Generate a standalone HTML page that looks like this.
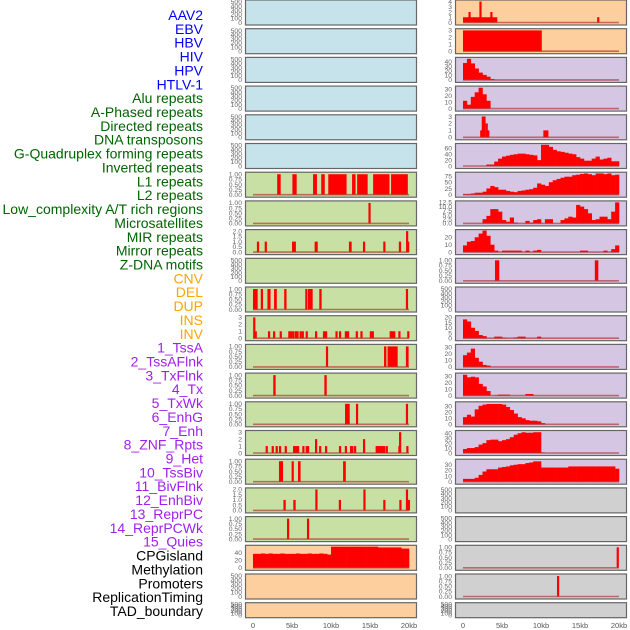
<!DOCTYPE html>
<html><head><meta charset="utf-8">
<style>
html,body{margin:0;padding:0;background:#fff;}
svg{display:block;font-family:"Liberation Sans",sans-serif;}
</style></head>
<body>
<svg id="chart" width="630" height="630" viewBox="0 0 630 630"></svg>
<script>
// ---- Data (kb-based) ----
const trackLabels = ["AAV2","EBV","HBV","HIV","HPV","HTLV-1","Alu repeats","A-Phased repeats","Directed repeats","DNA transposons","G-Quadruplex forming repeats","Inverted repeats","L1 repeats","L2 repeats","Low_complexity A/T rich regions","Microsatellites","MIR repeats","Mirror repeats","Z-DNA motifs","CNV","DEL","DUP","INS","INV","1_TssA","2_TssAFlnk","3_TxFlnk","4_Tx","5_TxWk","6_EnhG","7_Enh","8_ZNF_Rpts","9_Het","10_TssBiv","11_BivFlnk","12_EnhBiv","13_ReprPC","14_ReprPCWk","15_Quies","CPGisland","Methylation","Promoters","ReplicationTiming","TAD_boundary"];
const labelColors = ["#0000ff","#0000ff","#0000ff","#0000ff","#0000ff","#0000ff","#006400","#006400","#006400","#006400","#006400","#006400","#006400","#006400","#006400","#006400","#006400","#006400","#006400","#ffa500","#ffa500","#ffa500","#ffa500","#ffa500","#a020f0","#a020f0","#a020f0","#a020f0","#a020f0","#a020f0","#a020f0","#a020f0","#a020f0","#a020f0","#a020f0","#a020f0","#a020f0","#a020f0","#a020f0","#000","#000","#000","#000","#000"];
const xTickLabels = ["0","5kb","10kb","15kb","20kb"];
const xTickKb = [0,5,10,15,20];

// binned series (0.5 kb bins, 40 bins)
const cpgBins = [37,37,38,37,38,37,37,38,37,37,37,38,37,37,38,37,37,38,37,35,56,56,56,56,56,56,56,56,56,56,56,56,54,54,54,54,54,54,51,51];
const c2r2Bins = [37,46,36,25,16,11,7,2,0,0,0,0,0,0,0,0,0,0,0,0,0,0,0,0,0,0,0,0,0,0,0,0,0,0,0,0,0,0,0,0];
const c2r3Bins = [12,6,18,25,32,22,12,0,0,0,0,0,0,0,0,0,0,0,0,0,0,0,0,0,0,0,0,0,0,0,0,0,0,0,0,0,0,0,0,0];
const c2r5Bins = [0,0,0,0,0,0,5,5,15,25,32,35,38,40,42,42,40,38,36,20,72,72,65,55,50,48,45,42,40,30,25,18,18,25,32,22,25,28,16,16];
const c2r6Bins = [3,3,5,8,8,12,25,35,30,20,20,15,12,10,15,17,20,22,28,45,40,35,50,58,63,68,72,72,78,80,83,85,82,78,85,85,82,85,78,80];
const c2r7Bins = [0,0,0,0,0,2.5,4.5,8.5,8.5,7,2,1,3.5,0.5,0,0,1.5,0.5,2,2.5,0,2.5,2.5,0,0,2,3,4,3.5,11,10,8.5,6,2,2.5,4,4,2.5,7,12.5];
const c2r8Bins = [9,14,15,20,25,29,22,10,2,0,2,2,2,2,2,0,2,0,2,3,0,0,0,0,0,0,0,0,0,0,2,2,0,0,0,0,2,0,4,9];
const c2r11Bins = [18,16,10,7,3,2,0,0,1.5,1.5,0.5,0,0,0.7,1.5,1.5,0,0,0,1.5,0,0,0,0,0,0,0,0,0,0,0,0,0,0,0,0,0,0,0,0];
const c2r12Bins = [18,22,28,14,8,3,2,0,0,0,0,0,0,0,0,0,0,0,0,0,0,0,0,0,0,0,0,0,0,0,0,0,0,0,0,0,0,0,0,0];
const c2r13Bins = [32,28,29,28,18,14,7,0,0.5,1.5,1.5,1.5,0,0,0,0,2.5,2.5,0,0,0,0,0,0,0,0,0,0,0,0,0,0,0,0,0,0,0,0,0,0];
const c2r14Bins = [12,16,13,25,31,33,34,34,34,34,33,29,24,18,12,10,7,6,6,5,2,0,0,0,0,0,0,0,0,0,0,0,0,0,0,0,0,0,0,0];
const c2r15Bins = [8,10,10,12,17,20,26,27,27,24,26,28,32,37,40,42,41,41,42,42,1,0,0,0,0,0,0,0,0,0,0,0,0,0,0,0,0,0,0,0];
const c2r16Bins = [5,5,5,7,12,18,22,22,22,25,26,27,29,30,31,31,33,34,36,36,25,25,25,25,25,25,25,27,27,27,27,27,27,27,27,27,27,27,27,23];

// segment series [startKb, endKb, value]
const c1r6Segs = [[3.1,3.55,1],[5.05,5.6,1],[7.7,8.2,1],[8.75,9.2,1],[9.65,12.0,1],[12.7,13.15,1],[13.35,14.7,1],[15.4,17.5,1],[17.7,19.85,1]];
const c1r7Segs = [[14.8,15.05,1]];
const c1r8Segs = [[0.5,0.72,1],[1.5,1.72,1],[5.0,5.5,1],[7.9,8.3,1],[12.3,12.65,1],[14.1,14.3,1],[16.7,16.9,1],[18.7,18.9,1],[19.62,19.75,2],[19.75,19.95,1]];
const c1r10Segs = [[0,0.6,1],[1.0,1.25,1],[1.85,2.25,1],[2.7,3.05,1],[4.0,4.3,1],[6.7,6.95,1],[7.05,7.65,1],[8.5,8.8,1],[19.6,19.85,1]];
const c1r11SpikePos = [0.15,0.34,2.05,2.7,3.55,4.65,4.9,5.17,5.5,5.7,6.1,6.37,6.88,8.08,9.1,9.36,10.7,11.15,11.9,12.18,13.3,13.9,15.1,15.35,17.65,17.86,18.1,18.76,19.9];
const c1r11SpikeVal = [3,1,1,1,1,1,1,1,1,1,1,1,1,1,1,1,1,1,1,1,1,1,1,1,1,1,1,1,1];
const c1r12Segs = [[9.35,9.6,1],[16.8,17.1,1],[17.25,18.55,1],[19.6,19.95,1]];
const c1r13Segs = [[2.6,2.9,1],[9.15,9.45,1]];
const c1r14Segs = [[11.8,12.4,1],[13.2,13.4,1],[19.6,19.85,1]];
const c1r15SpikePos = [1.75,2.52,3.03,3.46,4.19,5.26,5.43,5.6,5.77,6.45,6.88,7.05,8.08,8.6,9.36,11.15,11.9,12.56,12.73,13.08,14.23,15.85,16.07,16.28,16.45,16.62,16.8,17.14,18.76,18.85,19.78];
const c1r15SpikeVal = [1,1,1,1,1,1,1,1,1,1,1,1,2,1,1,1,1,1,1,1,2,1,1,1,1,1,1,1,1,3,1];
const c1r16Segs = [[3.33,3.85,1],[4.95,5.2,1],[5.77,6.1,1],[11.55,11.9,1]];
const c1r17Segs = [[3.9,4.2,1],[5.17,5.47,1],[7.99,8.25,2],[11.0,11.2,1],[14.15,14.3,2],[16.7,16.9,1],[18.76,18.93,1],[19.6,19.83,2],[19.85,19.96,1]];
const c1r18Segs = [[4.36,4.57,1],[6.92,7.14,1]];
const c2r0Segs = [[0,4.4,1],[0.7,0.9,2],[2.1,2.3,4],[3.5,3.7,2],[17.2,17.4,1]];
const c2r1Segs = [[0,10.1,3]];
const c2r4Segs = [[2.2,2.4,1],[2.4,2.9,3],[2.9,3.1,2],[3.1,3.3,1],[10.3,10.95,1]];
const c2r9Segs = [[4.1,4.65,1],[16.9,17.35,1]];
const c2r19Segs = [[19.7,19.9,1]];
const c2r20Segs = [[12.05,12.25,1]];

// ---- tick label sets ----
const T500 = ["0","100","200","300","400","500"], V500=[0,100,200,300,400,500];
const TF = ["0.00","0.25","0.50","0.75","1.00"], VF=[0,0.25,0.5,0.75,1];
const T2 = ["0.0","0.5","1.0","1.5","2.0"], V2=[0,0.5,1,1.5,2];
const T3 = ["0","1","2","3"], V3=[0,1,2,3];

function spikes(pos,val){return pos.map((p,i)=>[p-0.13,p+0.13,val[i]]);}

const BG={blue:"#c6e3eb",green:"#c8e0a3",orange:"#fdcf9f",purple:"#d5c7e3",gray:"#d0d0d0"};
const panels=[];
function P(col,row,bg,tl,tv,ymax,o){panels.push(Object.assign({col,row,bg,tl,tv,ymax},o||{}));}
for(let r=0;r<6;r++)P(0,r,BG.blue,T500,V500,520);
P(0,6,BG.green,TF,VF,1.05,{segs:c1r6Segs});
P(0,7,BG.green,TF,VF,1.05,{segs:c1r7Segs});
P(0,8,BG.green,T2,V2,2.05,{segs:c1r8Segs});
P(0,9,BG.green,T500,V500,520);
P(0,10,BG.green,TF,VF,1.05,{segs:c1r10Segs});
P(0,11,BG.green,T3,V3,3.1,{segs:spikes(c1r11SpikePos,c1r11SpikeVal)});
P(0,12,BG.green,TF,VF,1.05,{segs:c1r12Segs});
P(0,13,BG.green,TF,VF,1.05,{segs:c1r13Segs});
P(0,14,BG.green,TF,VF,1.05,{segs:c1r14Segs});
P(0,15,BG.green,T3,V3,3.1,{segs:spikes(c1r15SpikePos,c1r15SpikeVal)});
P(0,16,BG.green,TF,VF,1.05,{segs:c1r16Segs});
P(0,17,BG.green,T2,V2,2.05,{segs:c1r17Segs});
P(0,18,BG.green,TF,VF,1.05,{segs:c1r18Segs});
P(0,19,BG.orange,["0","20","40"],[0,20,40],57,{bins:cpgBins});
P(0,20,BG.orange,T500,V500,520);
P(0,21,BG.orange,T500,V500,520);
P(1,0,BG.orange,["0","1","2","3","4"],[0,1,2,3,4],4.1,{segs:c2r0Segs});
P(1,1,BG.orange,T3,V3,3.1,{segs:c2r1Segs});
P(1,2,BG.purple,["0","10","20","30","40"],[0,10,20,30,40],47,{bins:c2r2Bins});
P(1,3,BG.purple,["0","10","20","30"],[0,10,20,30],33,{bins:c2r3Bins});
P(1,4,BG.purple,T3,V3,3.1,{segs:c2r4Segs});
P(1,5,BG.purple,["0","20","40","60"],[0,20,40,60],73,{bins:c2r5Bins});
P(1,6,BG.purple,["0","25","50","75"],[0,25,50,75],86,{bins:c2r6Bins});
P(1,7,BG.purple,["0.0","2.5","5.0","7.5","10.0","12.5"],[0,2.5,5,7.5,10,12.5],12.8,{bins:c2r7Bins});
P(1,8,BG.purple,["0","10","20"],[0,10,20],29,{bins:c2r8Bins});
P(1,9,BG.purple,TF,VF,1.05,{segs:c2r9Segs});
P(1,10,BG.purple,T500,V500,520);
P(1,11,BG.purple,["0","5","10","15","20"],[0,5,10,15,20],20.6,{bins:c2r11Bins});
P(1,12,BG.purple,["0","10","20","30"],[0,10,20,30],33,{bins:c2r12Bins});
P(1,13,BG.purple,["0","10","20","30"],[0,10,20,30],33,{bins:c2r13Bins});
P(1,14,BG.purple,["0","10","20","30"],[0,10,20,30],36,{bins:c2r14Bins});
P(1,15,BG.purple,["0","10","20","30","40"],[0,10,20,30,40],43.5,{bins:c2r15Bins});
P(1,16,BG.purple,["0","10","20","30"],[0,10,20,30],38,{bins:c2r16Bins});
P(1,17,BG.gray,T500,V500,520);
P(1,18,BG.gray,T500,V500,520);
P(1,19,BG.gray,TF,VF,1.05,{segs:c2r19Segs});
P(1,20,BG.gray,TF,VF,1.05,{segs:c2r20Segs});
P(1,21,BG.gray,T500,V500,520);

// ---- rendering ----
const NS="http://www.w3.org/2000/svg";
const svg=document.getElementById("chart");
function mk(tag,attrs,parent){const e=document.createElementNS(NS,tag);for(const k in attrs)e.setAttribute(k,attrs[k]);(parent||svg).appendChild(e);return e;}
const X0=[253,463], KB=7.8, PL=[245,455], PW=171;
function xs(col,kb){return X0[col]+kb*KB;}
function geom(p){const top=p.row*28.7-0.5;const h=p.row===21?15:25;return {top,h};}
function ys(p,g,v){const b=g.top+g.h-2;return b - v/p.ymax*(g.h-3.5);}

// left labels
const lg=mk("g",{});


trackLabels.forEach((t,i)=>{
  const tx=mk("text",{x:203,y:20+i*13.86,"text-anchor":"end","font-size":"14",fill:labelColors[i]},lg);
  tx.textContent=t;
  
  
});

panels.forEach(p=>{
  const g=geom(p);
  const pg=mk("g",{});
  
  
  const bg=mk("rect",{x:PL[p.col]+0.5,y:g.top+0.5,width:PW,height:g.h,fill:p.bg,stroke:"#666","stroke-width":1.2},pg);
  
  
  p.tl.forEach((t,i)=>{
    const tt=mk("text",{x:PL[p.col]-3,y:ys(p,g,p.tv[i])+2.3,"text-anchor":"end","font-size":"6.8",fill:"#666"},pg);
    tt.textContent=t;
    
    
  });
  const hasData=!!(p.bins||p.segs);
  if(p.bins){
    p.bins.forEach((v,i)=>{
      if(v<=0)return;
      const x1=xs(p.col,i*0.5), x2=xs(p.col,(i+1)*0.5);
      const y=ys(p,g,v);
      const r=mk("rect",{x:x1,y:y,width:x2-x1+0.3,height:ys(p,g,0)-y,fill:"#ff0000"},pg);
      
      
    });
  }
  if(p.segs){
    p.segs.forEach(s=>{
      const x1=xs(p.col,s[0]), x2=xs(p.col,s[1]);
      const y=ys(p,g,s[2]);
      const r=mk("rect",{x:x1,y:y,width:Math.max(2.2,x2-x1),height:ys(p,g,0)-y,fill:"#ff0000"},pg);
      
      
    });
  }
  if(hasData){
    const ln=mk("line",{x1:xs(p.col,0),x2:xs(p.col,20),y1:ys(p,g,0),y2:ys(p,g,0),stroke:"#b03030","stroke-width":1.6,"stroke-opacity":0.65},pg);
    
    
  }
});

// x axes
[0,1].forEach(c=>{
  xTickKb.forEach((k,i)=>{
    const t=mk("text",{x:xs(c,k),y:628,"text-anchor":"middle","font-size":"7.5",fill:"#555"});
    t.textContent=xTickLabels[i];
    
    
  });
});
</script>
</body></html>
